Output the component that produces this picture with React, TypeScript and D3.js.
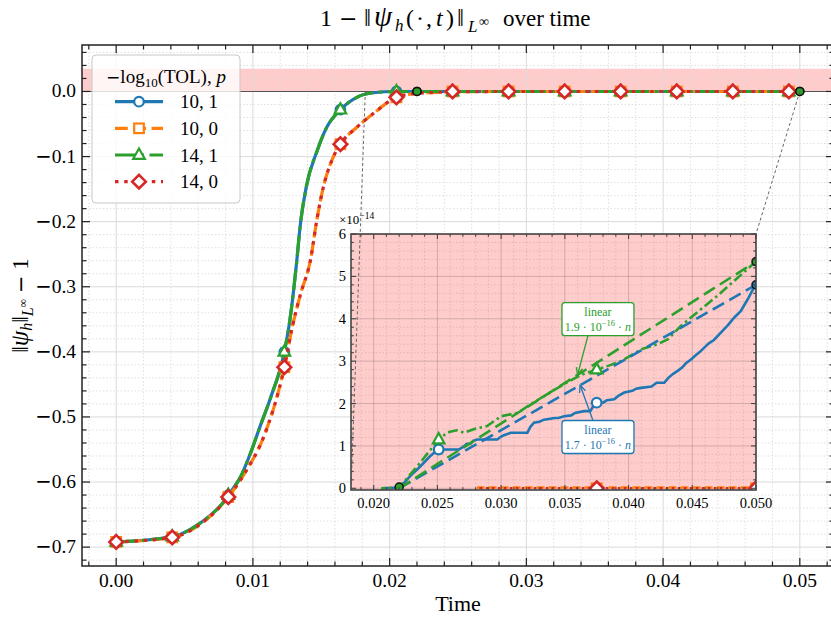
import React from "react";
import * as d3 from "d3";

// ---------- main plot data ----------
const tP1 = [0, 0.0041, 0.0054, 0.0066, 0.0078, 0.0082, 0.0091, 0.0098, 0.0105, 0.0113, 0.0123, 0.0127, 0.0132, 0.01345, 0.0139, 0.0147, 0.0154, 0.0164, 0.0176, 0.0188, 0.0205, 0.0246, 0.05];
const vP1 = [-0.692, -0.684, -0.673, -0.656, -0.632, -0.620, -0.592, -0.557, -0.516, -0.470, -0.400, -0.352, -0.262, -0.208, -0.147, -0.091, -0.055, -0.028, -0.009, -0.002, 0, 0, 0];
const tP0 = [0, 0.0041, 0.006, 0.0082, 0.0095, 0.0108, 0.0123, 0.0129, 0.0135, 0.0142, 0.01467, 0.01515, 0.01577, 0.0164, 0.0176, 0.0188, 0.0205, 0.022, 0.024, 0.026, 0.028, 0.05];
const vP0 = [-0.692, -0.685, -0.667, -0.623, -0.583, -0.530, -0.4235, -0.36, -0.31, -0.26, -0.198, -0.147, -0.106, -0.081, -0.055, -0.034, -0.009, -0.003, -0.001, -0.0003, 0, 0];
const markT = [0, 0.0041, 0.0082, 0.0123, 0.0164, 0.0205, 0.0246, 0.0287, 0.0328, 0.0369, 0.041, 0.0451, 0.0492];
const markVP1 = [-0.692, -0.684, -0.620, -0.400, -0.028, 0, 0, 0, 0, 0, 0, 0, 0];
const markVP0 = [-0.692, -0.685, -0.623, -0.4235, -0.081, -0.009, 0, 0, 0, 0, 0, 0, 0];
const endT = [0.022, 0.05];
const endV = [0, 0];
const bandLo = 0;
const bandHi = 0.035;

// ---------- inset data (units of 1e-14) ----------
const inTBlue = [0.0203, 0.0207, 0.02205, 0.0229, 0.02367, 0.0244, 0.02506, 0.02669, 0.02708, 0.0273, 0.0276, 0.0278, 0.02813, 0.0297, 0.0300, 0.03022, 0.03075, 0.03206, 0.0323, 0.03258, 0.0330, 0.03337, 0.0342, 0.0345, 0.03494, 0.0355, 0.0358, 0.03651, 0.0370, 0.0372, 0.03756, 0.0380, 0.0383, 0.03887, 0.0392, 0.03966, 0.0403, 0.0406, 0.04097, 0.0418, 0.0422, 0.0428, 0.0431, 0.0435, 0.04385, 0.0442, 0.0445, 0.0449, 0.0452, 0.0456, 0.04594, 0.0463, 0.0467, 0.04726, 0.0478, 0.0483, 0.0488, 0.04935, 0.04993, 0.05];
const inVBlue = [-2, 0, 0.02, 0.3, 0.52, 0.75, 0.915, 0.915, 0.99, 1.05, 1.05, 1.12, 1.15, 1.15, 1.22, 1.25, 1.31, 1.31, 1.45, 1.55, 1.57, 1.62, 1.66, 1.66, 1.70, 1.72, 1.78, 1.82, 1.82, 1.92, 2.02, 2.02, 2.08, 2.10, 2.18, 2.26, 2.30, 2.35, 2.37, 2.40, 2.49, 2.49, 2.60, 2.70, 2.77, 2.85, 2.95, 3.04, 3.12, 3.22, 3.32, 3.42, 3.50, 3.68, 3.85, 4.03, 4.18, 4.46, 4.79, 4.8];
const inTGreen = [0.0203, 0.0207, 0.0220, 0.0235, 0.0251, 0.0258, 0.0265, 0.0271, 0.0279, 0.0289, 0.0300, 0.0313, 0.0323, 0.0335, 0.0349, 0.0363, 0.0376, 0.0385, 0.0394, 0.0410, 0.0423, 0.0431, 0.0441, 0.0457, 0.0470, 0.0485, 0.0500];
const inVGreen = [-2, 0, 0.02, 0.55, 1.15, 1.32, 1.37, 1.31, 1.40, 1.47, 1.70, 1.78, 1.98, 2.20, 2.45, 2.68, 2.81, 2.90, 3.00, 3.28, 3.40, 3.52, 3.83, 4.23, 4.55, 4.95, 5.35];
const inTOrange = [0.0279, 0.0282, 0.05];
const inVOrange = [-2, 0.02, 0.02];
const inTRed = [0.0280, 0.0284, 0.05];
const inVRed = [-2, 0, 0];
const inMarkT = [0.0251, 0.0375];
const inMarkBlue = [0.915, 2.02];
const inMarkGreen = [1.15, 2.8];
const inMarkRedT = [0.0375, 0.05];
const inMarkRedV = [0, 0];
const fitT = [0.022, 0.05];
const fitBlue = [0, 4.8];
const fitGreen = [0, 5.35];
const inEndGreenT = [0.022, 0.05];
const inEndGreenV = [0.03, 5.35];
const inEndBlueT = [0.05];
const inEndBlueV = [4.8];

// ---------- ticks & labels ----------
const xTicks = [0, 0.01, 0.02, 0.03, 0.04, 0.05];
const yTicks = [0, -0.1, -0.2, -0.3, -0.4, -0.5, -0.6, -0.7];
const ixTicks = [0.02, 0.025, 0.03, 0.035, 0.04, 0.045, 0.05];
const iyTicks = [0, 1, 2, 3, 4, 5, 6];
const seriesLabels = ["10, 1", "10, 0", "14, 1", "14, 0"];
const fitLabels = ["1.9", "1.7"];

const C = { blue: "#1f77b4", orange: "#ff7f0e", green: "#2ca02c", red: "#d62728" };
const FONT = "'Liberation Serif', 'DejaVu Serif', serif";
const MINUS_FONT = "'DejaVu Sans', sans-serif";
const LW = 3.2;
const DASH = { solid: undefined, dashed: "12.8,5.5", dashdot: "20,5.5,3.5,5.5", dotted: "3.5,5.7" } as const;

const styles = [
  { color: C.blue, dash: DASH.solid, marker: "circle" },
  { color: C.orange, dash: DASH.dashed, marker: "square" },
  { color: C.green, dash: DASH.dashdot, marker: "triangle" },
  { color: C.red, dash: DASH.dotted, marker: "diamond" },
];

function Marker({ type, x, y, color }: { type: string; x: number; y: number; color: string }) {
  if (type === "circle") return <circle cx={x} cy={y} r={4.8} fill="white" stroke={color} strokeWidth={2.2} />;
  if (type === "square") return <rect x={x - 4.8} y={y - 4.8} width={9.6} height={9.6} fill="white" stroke={color} strokeWidth={2.2} />;
  if (type === "triangle")
    return <polygon points={`${x},${y - 6.5} ${x + 5.8},${y + 3.8} ${x - 5.8},${y + 3.8}`} fill="white" stroke={color} strokeWidth={2.2} />;
  return <polygon points={`${x},${y - 6.8} ${x + 6.8},${y} ${x},${y + 6.8} ${x - 6.8},${y}`} fill="white" stroke={color} strokeWidth={2.6} />;
}

function zip(t: number[], v: number[]): [number, number][] {
  return t.map((d, i) => [d, v[i]]);
}

function Arrow({ x1, y1, x2, y2, color }: { x1: number; y1: number; x2: number; y2: number; color: string }) {
  const a = Math.atan2(y2 - y1, x2 - x1);
  const L = 7, w = 3.2;
  const bx = x2 - L * Math.cos(a), by = y2 - L * Math.sin(a);
  const p1 = [bx + w * Math.sin(a), by - w * Math.cos(a)];
  const p2 = [bx - w * Math.sin(a), by + w * Math.cos(a)];
  return (
    <g stroke={color} strokeWidth={1.3} fill="none">
      <line x1={x1} y1={y1} x2={x2} y2={y2} />
      <path d={`M${p1[0]},${p1[1]} L${x2},${y2} L${p2[0]},${p2[1]}`} />
    </g>
  );
}

export default function App() {
  const x = d3.scaleLinear().domain([-0.0025, 0.0525]).range([82, 834]);
  const y = d3.scaleLinear().domain([-0.729, 0.0714]).range([566, 45]);
  const ix = d3.scaleLinear().domain([0.01822, 0.05]).range([351, 756]);
  const iy = d3.scaleLinear().domain([-0.04, 6]).range([490, 234]);

  const [X0, X1] = x.range();
  const [Y1, Y0] = y.range();
  const [IX0, IX1] = ix.range();
  const [IY1, IY0] = iy.range();

  const mainLine = d3.line<[number, number]>().x((d) => x(d[0])).y((d) => y(d[1])).curve(d3.curveMonotoneX);
  const inLine = d3.line<[number, number]>().x((d) => ix(d[0])).y((d) => iy(d[1]));

  const fmtX = d3.format(".2f");
  const fmt1 = d3.format(".1f");
  const fmtIX = d3.format(".3f");

  const xMinor = d3.range(-0.002, 0.0525, 0.002).filter((v) => xTicks.every((t) => Math.abs(t - v) > 1e-9));
  const yMinor = d3.range(0.06, -0.73, -0.02).filter((v) => yTicks.every((t) => Math.abs(t - v) > 1e-9));
  const ixMinor = d3.range(0.019, 0.0501, 0.001).filter((v) => ixTicks.every((t) => Math.abs(t - v) > 1e-9));
  const iyMinor = d3.range(0, 6.01, 0.2).filter((v) => iyTicks.every((t) => Math.abs(t - v) > 1e-9));

  const mainSeries = [
    { d: zip(tP1, vP1), m: markVP1 },
    { d: zip(tP0, vP0), m: markVP0 },
    { d: zip(tP1, vP1), m: markVP1 },
    { d: zip(tP0, vP0), m: markVP0 },
  ];

  const insetSeries = [
    { d: zip(inTBlue, inVBlue), mt: inMarkT, mv: inMarkBlue },
    { d: zip(inTOrange, inVOrange), mt: inMarkRedT, mv: inMarkRedV },
    { d: zip(inTGreen, inVGreen), mt: inMarkT, mv: inMarkGreen },
    { d: zip(inTRed, inVRed), mt: inMarkRedT, mv: inMarkRedV },
  ];

  const legendX = 92, legendY = 55, legendW = 148, legendH = 148;
  const rowY = [101.7, 128.3, 155, 181.7];

  const boxW = 72, boxH = 33;
  const annT = 0.0376;
  const greenBox = { cx: ix(annT), cy: iy(3.99) };
  const blueBox = { cx: ix(annT), cy: iy(1.21) };

  const yLabel = (v: number) => {
    const s = fmt1(v);
    if (s.startsWith("−")) {
      return (
        <>
          <tspan fontFamily={MINUS_FONT}>−</tspan>
          <tspan>{s.slice(1)}</tspan>
        </>
      );
    }
    return s;
  };

  const TY = 26;

  return (
    <svg width={831} height={618} style={{ position: "fixed", left: 0, top: 0, background: "white" }} fontFamily={FONT}>
      <defs>
        <clipPath id="mainClip">
          <rect x={X0} y={Y0} width={X1 - X0} height={Y1 - Y0} />
        </clipPath>
        <clipPath id="inClip">
          <rect x={IX0} y={IY0} width={IX1 - IX0} height={IY1 - IY0} />
        </clipPath>
      </defs>
      <rect width={831} height={618} fill="white" />

      {/* Title */}
      <g fill="#000">
        <text x={320} y={TY} fontSize={24}>1</text>
        <text x={339} y={TY} fontSize={22} fontFamily={MINUS_FONT}>−</text>
        <text x={364} y={TY} fontSize={25}>‖</text>
        <text x={374} y={TY} fontSize={29} fontStyle="italic">ψ</text>
        <text x={395} y={TY + 5} fontSize={17} fontStyle="italic">h</text>
        <text x={406} y={TY} fontSize={24}>(</text>
        <text x={416} y={TY} fontSize={24}>·</text>
        <text x={426} y={TY} fontSize={24}>,</text>
        <text x={436} y={TY} fontSize={24} fontStyle="italic">t</text>
        <text x={446} y={TY} fontSize={24}>)</text>
        <text x={457} y={TY} fontSize={25}>‖</text>
        <text x={468} y={TY + 6} fontSize={17} fontStyle="italic">L</text>
        <text x={479} y={TY} fontSize={14}>∞</text>
        <text x={503} y={TY} fontSize={23}>over time</text>
      </g>

      {/* Main plot */}
      <g clipPath="url(#mainClip)">
        <rect x={X0} y={y(bandHi)} width={X1 - X0} height={y(bandLo) - y(bandHi)} fill="#ff0000" fillOpacity={0.2} />
        {xMinor.map((v, i) => (
          <line key={"gxm" + i} x1={x(v)} x2={x(v)} y1={Y0} y2={Y1} stroke="#d8d8d8" strokeWidth={0.8} strokeDasharray="1.5,2" />
        ))}
        {yMinor.map((v, i) => (
          <line key={"gym" + i} x1={X0} x2={X1} y1={y(v)} y2={y(v)} stroke="#d8d8d8" strokeWidth={0.8} strokeDasharray="1.5,2" />
        ))}
        {xTicks.map((v, i) => (
          <line key={"gx" + i} x1={x(v)} x2={x(v)} y1={Y0} y2={Y1} stroke="#dadada" strokeWidth={1} />
        ))}
        {yTicks.map((v, i) => (
          <line key={"gy" + i} x1={X0} x2={X1} y1={y(v)} y2={y(v)} stroke="#dadada" strokeWidth={1} />
        ))}
        <line x1={X0} x2={X1} y1={y(0)} y2={y(0)} stroke="#555" strokeWidth={1.1} />
        {mainSeries.map((s, i) => (
          <g key={"ms" + i}>
            <path d={mainLine(s.d) || ""} fill="none" stroke={styles[i].color} strokeWidth={LW} strokeDasharray={styles[i].dash} />
            {markT.map((t, j) => (
              <Marker key={j} type={styles[i].marker} x={x(t)} y={y(s.m[j])} color={styles[i].color} />
            ))}
          </g>
        ))}
        {endT.map((t, j) => (
          <circle key={"eb" + j} cx={x(t)} cy={y(endV[j])} r={4} fill={C.blue} stroke="#111" strokeWidth={1.5} />
        ))}
        {endT.map((t, j) => (
          <circle key={"eg" + j} cx={x(t)} cy={y(endV[j])} r={4} fill={C.green} stroke="#111" strokeWidth={1.5} />
        ))}
      </g>

      {/* Main axes spines and ticks */}
      <g stroke="#222" strokeWidth={1.2}>
        {xTicks.map((v, i) => (
          <g key={"tx" + i}>
            <line x1={x(v)} x2={x(v)} y1={Y1} y2={Y1 - 8} />
            <line x1={x(v)} x2={x(v)} y1={Y0} y2={Y0 + 8} />
          </g>
        ))}
        {xMinor.map((v, i) => (
          <g key={"txm" + i}>
            <line x1={x(v)} x2={x(v)} y1={Y1} y2={Y1 - 4.5} />
            <line x1={x(v)} x2={x(v)} y1={Y0} y2={Y0 + 4.5} />
          </g>
        ))}
        {yTicks.map((v, i) => (
          <g key={"ty" + i}>
            <line x1={X0} x2={X0 + 8} y1={y(v)} y2={y(v)} />
            <line x1={X1} x2={X1 - 8} y1={y(v)} y2={y(v)} />
          </g>
        ))}
        {yMinor.map((v, i) => (
          <g key={"tym" + i}>
            <line x1={X0} x2={X0 + 4.5} y1={y(v)} y2={y(v)} />
            <line x1={X1} x2={X1 - 4.5} y1={y(v)} y2={y(v)} />
          </g>
        ))}
        <rect x={X0} y={Y0} width={X1 - X0} height={Y1 - Y0} fill="none" strokeWidth={1.5} />
      </g>
      {xTicks.map((v, i) => (
        <text key={"lx" + i} x={x(v)} y={Y1 + 21} textAnchor="middle" fontSize={19.5}>
          {fmtX(v)}
        </text>
      ))}
      {yTicks.map((v, i) => (
        <text key={"ly" + i} x={X0 - 6} y={y(v) + 6} textAnchor="end" fontSize={19.5}>
          {yLabel(v)}
        </text>
      ))}
      <text x={(X0 + X1) / 2} y={611} textAnchor="middle" fontSize={22}>
        Time
      </text>
      <text transform={`translate(28,${(Y0 + Y1) / 2}) rotate(-90)`} textAnchor="middle" fontSize={23}>
        ‖<tspan fontStyle="italic" fontSize={25}>ψ</tspan>
        <tspan fontStyle="italic" fontSize={16} dy={4}>h</tspan>
        <tspan dy={-4}>‖</tspan>
        <tspan fontStyle="italic" fontSize={16} dy={5}>L</tspan>
        <tspan fontSize={12} dy={-6}>∞</tspan>
        <tspan dy={1}> </tspan>
        <tspan fontFamily={MINUS_FONT} fontSize={21}>−</tspan>
        <tspan> 1</tspan>
      </text>

      {/* Legend */}
      <g>
        <rect x={legendX} y={legendY} width={legendW} height={legendH} rx={4} fill="white" fillOpacity={0.8} stroke="#c8c8c8" strokeWidth={1} />
        <text x={legendX + legendW / 2} y={82.5} textAnchor="middle" fontSize={19}>
          <tspan fontFamily={MINUS_FONT} fontSize={17}>−</tspan>
          <tspan>log</tspan>
          <tspan fontSize={13} dy={4}>10</tspan>
          <tspan dy={-4}>(TOL), </tspan>
          <tspan fontStyle="italic">p</tspan>
        </text>
        {seriesLabels.map((lab, i) => (
          <g key={"lg" + i}>
            <line x1={115} x2={163} y1={rowY[i]} y2={rowY[i]} stroke={styles[i].color} strokeWidth={LW} strokeDasharray={styles[i].dash} />
            <Marker type={styles[i].marker} x={139} y={rowY[i]} color={styles[i].color} />
            <text x={180} y={rowY[i] + 6.5} fontSize={19}>
              {lab}
            </text>
          </g>
        ))}
      </g>

      {/* Inset */}
      <g>
        <rect x={IX0} y={IY0} width={IX1 - IX0} height={IY1 - IY0} fill="white" />
        <g clipPath="url(#inClip)">
          <rect x={IX0} y={IY0} width={IX1 - IX0} height={IY1 - IY0} fill="#ff0000" fillOpacity={0.2} />
          {ixMinor.map((v, i) => (
            <line key={"igxm" + i} x1={ix(v)} x2={ix(v)} y1={IY0} y2={IY1} stroke="#a08080" strokeOpacity={0.35} strokeWidth={0.8} strokeDasharray="1.5,2" />
          ))}
          {iyMinor.map((v, i) => (
            <line key={"igym" + i} x1={IX0} x2={IX1} y1={iy(v)} y2={iy(v)} stroke="#a08080" strokeOpacity={0.35} strokeWidth={0.8} strokeDasharray="1.5,2" />
          ))}
          {ixTicks.map((v, i) => (
            <line key={"igx" + i} x1={ix(v)} x2={ix(v)} y1={IY0} y2={IY1} stroke="#a08080" strokeOpacity={0.45} strokeWidth={1} />
          ))}
          {iyTicks.map((v, i) => (
            <line key={"igy" + i} x1={IX0} x2={IX1} y1={iy(v)} y2={iy(v)} stroke="#a08080" strokeOpacity={0.45} strokeWidth={1} />
          ))}
          {insetSeries.map((s, i) => (
            <path key={"is" + i} d={inLine(s.d) || ""} fill="none" stroke={styles[i].color} strokeWidth={2.6} strokeDasharray={i === 2 ? "10,3.5,2.5,3.5" : i === 3 ? "2.5,3.5" : i === 1 ? "8,4" : undefined} />
          ))}
          <path d={inLine(zip(fitT, fitBlue)) || ""} fill="none" stroke={C.blue} strokeWidth={2.6} strokeDasharray="13,6" />
          <path d={inLine(zip(fitT, fitGreen)) || ""} fill="none" stroke={C.green} strokeWidth={2.6} strokeDasharray="13,6" />
          {insetSeries.map((s, i) =>
            s.mt.map((t, j) => <Marker key={"im" + i + "-" + j} type={styles[i].marker} x={ix(t)} y={iy(s.mv[j])} color={styles[i].color} />)
          )}
          {inEndBlueT.map((t, j) => (
            <circle key={"ieb" + j} cx={ix(t)} cy={iy(inEndBlueV[j])} r={4} fill={C.blue} stroke="#111" strokeWidth={1.5} />
          ))}
          {inEndGreenT.map((t, j) => (
            <circle key={"ieg" + j} cx={ix(t)} cy={iy(inEndGreenV[j])} r={4} fill={C.green} stroke="#111" strokeWidth={1.5} />
          ))}
        </g>

        {/* annotations */}
        <Arrow x1={greenBox.cx - 10} y1={greenBox.cy + boxH / 2} x2={ix(0.036)} y2={iy(2.68)} color={C.green} />
        <Arrow x1={blueBox.cx - 5} y1={blueBox.cy - boxH / 2} x2={ix(0.0362)} y2={iy(2.43)} color={C.blue} />
        {[greenBox, blueBox].map((b, k) => {
          const col = k === 0 ? C.green : C.blue;
          return (
            <g key={"ann" + k}>
              <rect x={b.cx - boxW / 2} y={b.cy - boxH / 2} width={boxW} height={boxH} rx={3} fill="white" stroke={col} strokeWidth={1.3} />
              <text x={b.cx} y={b.cy - 3.5} textAnchor="middle" fontSize={12} fill={col}>
                linear
              </text>
              <text x={b.cx} y={b.cy + 11.5} textAnchor="middle" fontSize={12} fill={col}>
                {fitLabels[k]} · 10<tspan fontSize={8.5} dy={-5}>−16</tspan>
                <tspan dy={5}> · </tspan>
                <tspan fontStyle="italic">n</tspan>
              </text>
            </g>
          );
        })}

        {/* inset spines & ticks */}
        <g stroke="#444" strokeWidth={1.1}>
          {ixTicks.map((v, i) => (
            <g key={"itx" + i}>
              <line x1={ix(v)} x2={ix(v)} y1={IY1} y2={IY1 - 5} />
              <line x1={ix(v)} x2={ix(v)} y1={IY0} y2={IY0 + 5} />
            </g>
          ))}
          {ixMinor.map((v, i) => (
            <g key={"itxm" + i}>
              <line x1={ix(v)} x2={ix(v)} y1={IY1} y2={IY1 - 2.8} />
              <line x1={ix(v)} x2={ix(v)} y1={IY0} y2={IY0 + 2.8} />
            </g>
          ))}
          {iyTicks.map((v, i) => (
            <g key={"ity" + i}>
              <line x1={IX0} x2={IX0 + 5} y1={iy(v)} y2={iy(v)} />
              <line x1={IX1} x2={IX1 - 5} y1={iy(v)} y2={iy(v)} />
            </g>
          ))}
          {iyMinor.map((v, i) => (
            <g key={"itym" + i}>
              <line x1={IX0} x2={IX0 + 2.8} y1={iy(v)} y2={iy(v)} />
              <line x1={IX1} x2={IX1 - 2.8} y1={iy(v)} y2={iy(v)} />
            </g>
          ))}
          <rect x={IX0} y={IY0} width={IX1 - IX0} height={IY1 - IY0} fill="none" strokeWidth={1.6} />
        </g>
        {ixTicks.map((v, i) => (
          <text key={"ilx" + i} x={ix(v)} y={IY1 + 18} textAnchor="middle" fontSize={14.5}>
            {fmtIX(v)}
          </text>
        ))}
        {iyTicks.map((v, i) => (
          <text key={"ily" + i} x={IX0 - 5} y={iy(v) + 5} textAnchor="end" fontSize={14.5}>
            {v}
          </text>
        ))}
        <text x={IX0 - 12} y={IY0 - 10} fontSize={13}>
          ×10<tspan fontSize={9.5} dy={-5}>−14</tspan>
        </text>
      </g>

      {/* connector lines */}
      <g stroke="#555" strokeWidth={0.9} strokeDasharray="3,2.5" fill="none">
        <line x1={x(0.01822)} y1={y(0)} x2={IX0} y2={IY1} />
        <line x1={x(0.05)} y1={y(0)} x2={IX1} y2={IY0} />
      </g>
    </svg>
  );
}
